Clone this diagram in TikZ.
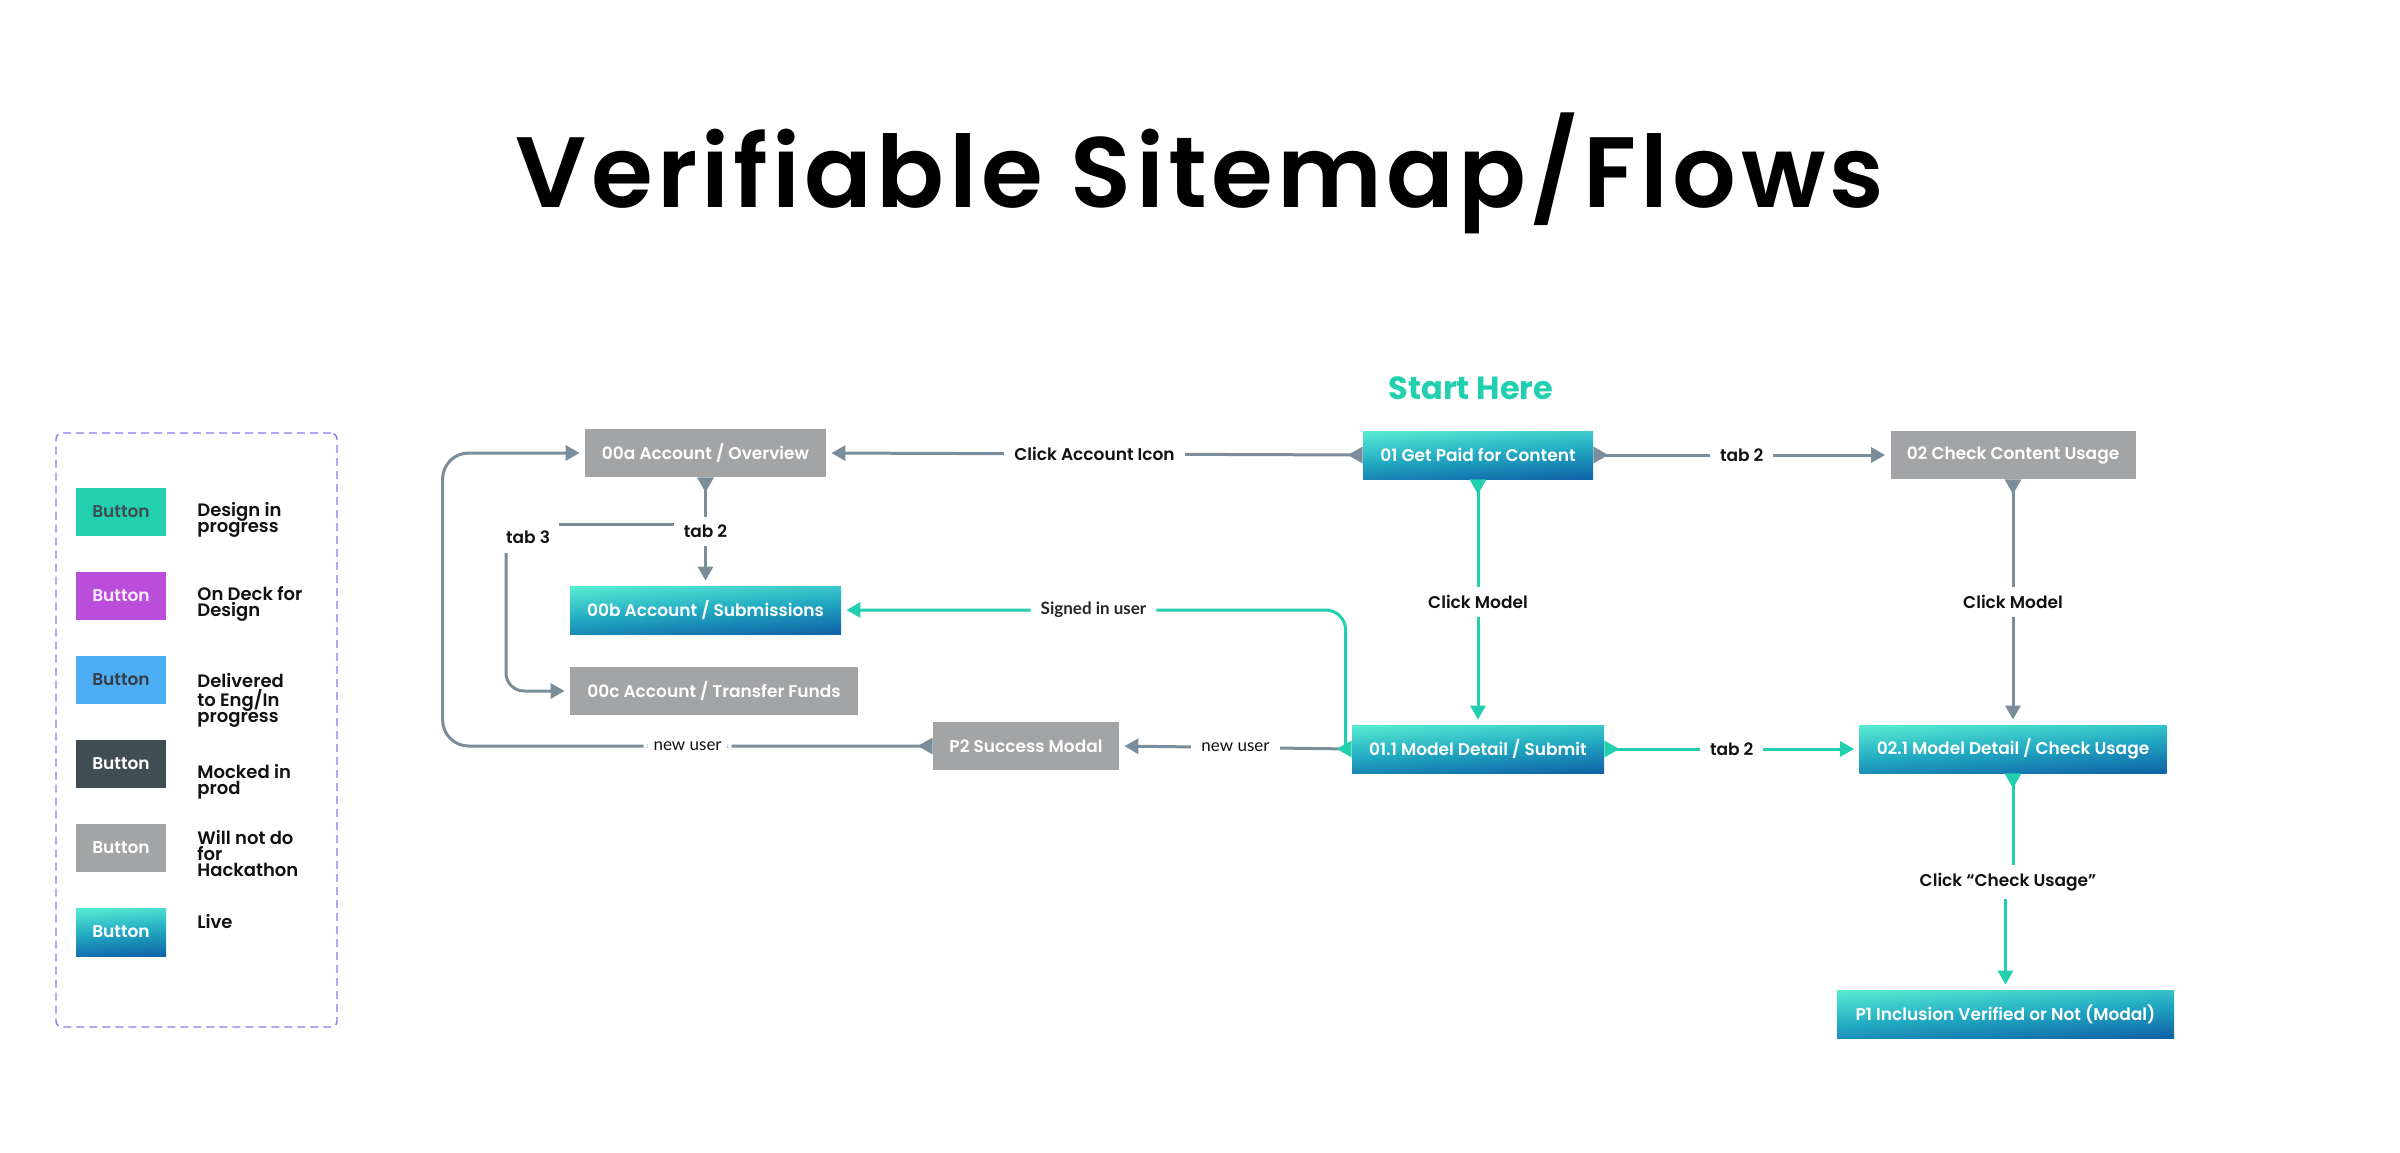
\documentclass[tikz,border=0pt]{standalone}
\usepackage{fontspec}
\setmainfont{Poppins}
\IfFontExistsTF{Poppins SemiBold}{\newfontfamily\popsb{Poppins SemiBold}\newfontfamily\poptitle{Poppins SemiBold}[LetterSpace=4.3]}{\newcommand\popsb{\bfseries}\newcommand\poptitle{\bfseries}}
\newfontfamily\latof{Lato}
\usetikzlibrary{arrows.meta,calc}
\definecolor{tealc}{HTML}{22CFAE}
\definecolor{gline}{HTML}{7A8D9A}
\definecolor{gbox}{HTML}{A3A4A6}
\definecolor{gradA}{HTML}{55E8D2}
\definecolor{gradM}{HTML}{22AAC2}
\definecolor{gradB}{HTML}{1066A8}
\definecolor{purp}{HTML}{BA4DD9}
\definecolor{bluec}{HTML}{4DAEF6}
\definecolor{darkc}{HTML}{414D55}
\definecolor{legline}{HTML}{8C74F0}
\definecolor{lbltxt}{HTML}{111111}
\tikzset{
  smk/.tip={Triangle[reversed,length=7.5pt,width=8pt]},
  emk/.tip={Triangle[length=7pt,width=7.5pt]},
  box/.style={rectangle, minimum height=24pt, inner sep=0pt, text=white,
    font=\popsb\fontsize{8.5}{10}\selectfont},
  graybox/.style={box, fill=gbox},
  gradfill/.style={top color=gradA, bottom color=gradB, middle color=gradM, shading angle=4},
  livebox/.style={box, gradfill},
  gl/.style={draw=gline, line width=1.5pt, shorten >=2.5pt},
  tl/.style={draw=tealc, line width=1.5pt, shorten >=2.5pt},
  lbl/.style={fill=white, inner xsep=5pt, inner ysep=4pt, text=lbltxt,
    font=\popsb\fontsize{8.5}{10}\selectfont},
  legbtn/.style={rectangle, minimum width=45pt, minimum height=24pt, inner sep=0pt,
    font=\popsb\fontsize{8.5}{10}\selectfont},
  legtxt/.style={anchor=west, align=left, inner sep=0pt, text=lbltxt,
    font=\popsb\fontsize{9}{8}\selectfont},
}
\begin{document}
\begin{tikzpicture}[x=0.5pt,y=-0.5pt]
\useasboundingbox (0,0) rectangle (2400,1152);

% title
\node[font=\poptitle\fontsize{50}{60}\selectfont, anchor=base, text=black] (title) at (1200,207) {Verifiable Sitemap/Flows};
\node[font=\bfseries\fontsize{16}{19}\selectfont, text=tealc] (start) at (1471,388) {Start Here};

% legend
\node[draw=legline, dash pattern=on 4pt off 2.5pt, line width=0.7pt, rounded corners=3pt,
  minimum width=140.5pt, minimum height=297pt, inner sep=0pt] (legend) at (196.5,730) {};
\node[legbtn, fill=tealc, text=darkc] (b1) at (121,512) {Button};
\node[legbtn, fill=purp, text=white!90!purp] (b2) at (121,596) {Button};
\node[legbtn, fill=bluec, text=darkc!80!black] (b3) at (121,680) {Button};
\node[legbtn, fill=darkc, text=white] (b4) at (121,764) {Button};
\node[legbtn, fill=gbox, text=white] (b5) at (121,848) {Button};
\node[legbtn, gradfill, text=white] (b6) at (121,932) {Button};
\node[legtxt] (l1) at (197,520) {Design in\\progress};
\node[legtxt] (l2) at (197,604) {On Deck for\\Design};
\node[legtxt] (l3) at (197,700) {Delivered\\to Eng/In\\progress};
\node[legtxt] (l4) at (197,782) {Mocked in\\prod};
\node[legtxt] (l5) at (197,854) {Will not do\\for\\Hackathon};
\node[legtxt] (l6) at (197,922) {Live};

% nodes
\node[graybox, minimum width=120.5pt] (n00a) at (705.5,453) {00a Account / Overview};
\node[livebox, minimum width=135.5pt] (n00b) at (705.5,610) {00b Account / Submissions};
\node[graybox, minimum width=144pt] (n00c) at (714,691) {00c Account / Transfer Funds};
\node[livebox, minimum width=115pt] (n01) at (1478,455) {01 Get Paid for Content};
\node[graybox, minimum width=122.5pt] (n02) at (2013,455) {02 Check Content Usage};
\node[livebox, minimum width=126pt] (n011) at (1478,749) {01.1 Model Detail / Submit};
\node[livebox, minimum width=153.5pt] (n021) at (2013,749) {02.1 Model Detail / Check Usage};
\node[graybox, minimum width=93pt] (nP2) at (1026,746) {P2 Success Modal};
\node[livebox, minimum width=168.5pt] (nP1) at (2005.5,1014) {P1 Inclusion Verified or Not (Modal)};

% connectors
\draw[gl, smk-emk] (n01.west) -- node[lbl] (lca) {Click Account Icon} (n00a.east);
\draw[gl, smk-emk] (n01.east) -- node[lbl] (lt2a) {tab 2} (n02.west);
\draw[tl, smk-emk] (n01.south) -- node[lbl] (lcm1) {Click Model} (n011.north);
\draw[gl, smk-emk] (n02.south) -- node[lbl] (lcm2) {Click Model} (n021.north);
\draw[tl, smk-emk] (n011.east) -- node[lbl] (lt2b) {tab 2} (n021.west);
\draw[tl, smk-emk] (n021.south) -- (2013,882) -- (2005.5,882) -- (nP1.north);
\node[lbl] (lcu) at (2008,882) {Click “Check Usage”};

\draw[tl, -emk, rounded corners=10pt] ([xshift=-3pt]n011.west) |- node[lbl, pos=0.75, text=black!85, font=\latof\bfseries\fontsize{8.5}{10}\selectfont] (lsi) {Signed in user} (n00b.east);
\draw[gl, {Triangle[reversed,length=7.5pt,width=8pt,color=tealc]}-emk] (n011.west) -- node[lbl, font=\latof\fontsize{8.5}{10}\selectfont] (lnu1) {new user} (nP2.east);
\draw[gl, smk-emk, rounded corners=13pt] (nP2.west) -- node[lbl, font=\latof\fontsize{8.5}{10}\selectfont] (lnu2) {new user} ++(-490,0) |- (n00a.west);

\draw[gl, smk-emk] (n00a.south) -- node[lbl] (lt2c) {tab 2} (n00b.north);
\coordinate (t3s) at (674,524);
\coordinate (t3e) at (559,524);
\coordinate (t3v) at (506,553);
\draw[gl, shorten >=0pt] (t3s) -- (t3e);
\draw[gl, -emk, rounded corners=9pt] (t3v) |- (n00c.west);
\node[text=lbltxt, font=\popsb\fontsize{8.5}{10}\selectfont] (lt3) at (528,537) {tab 3};
\end{tikzpicture}
\end{document}
